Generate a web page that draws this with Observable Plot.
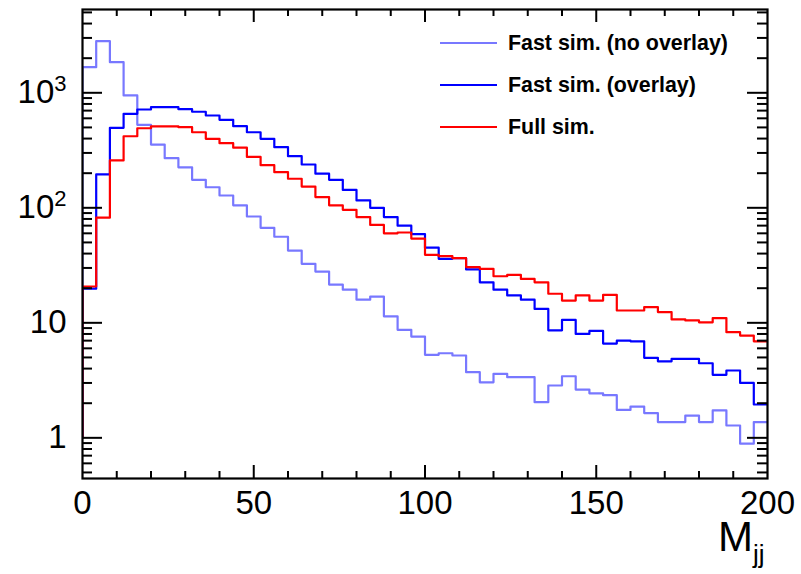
<!DOCTYPE html>
<html><head><meta charset="utf-8">
<script src="https://cdn.jsdelivr.net/npm/d3@7"></script>
<script src="https://cdn.jsdelivr.net/npm/@observablehq/plot@0.6"></script>
<style>
body{margin:0;background:#fff}
#wrap{position:relative;width:801px;height:574px;font-family:"Liberation Sans",Arial,Helvetica,sans-serif;color:#000}
#legend{position:absolute;left:440px;top:0;font-weight:bold;font-size:21.4px}
.lg{position:absolute;left:0;white-space:nowrap;display:flex;align-items:center;height:24px}
.lg span.sw{display:inline-block;width:57px;height:0;border-top:2px solid;margin-right:11px}
#xlab{position:absolute;left:718px;top:516px;font-size:42px;white-space:nowrap;line-height:1}
#xlab sub{font-size:26px;vertical-align:-12px}
</style>
</head><body><div id="wrap"></div>
<script>
// bin lower edges (bin width 4)
const binEdges = [0,4,8,12,16,20,24,28,32,36,40,44,48,52,56,60,64,68,72,76,80,84,88,92,96,100,104,108,112,116,120,124,128,132,136,140,144,148,152,156,160,164,168,172,176,180,184,188,192,196];
const xUpper = 200;
const fastNoOverlay = [1670,2810,1845,948,527,355,270,225,175,151,128,105,84,67,56,42.5,32.6,27.9,21.5,19.4,15.9,16.9,11.4,8.7,7.6,5.27,5.44,5.2,3.72,3.04,3.6,3.37,3.37,2.04,2.85,3.43,2.63,2.44,2.35,1.75,1.87,1.64,1.37,1.37,1.56,1.37,1.73,1.28,0.89,1.37];
const fastOverlay = [19.8,195,496,657,716,750,750,720,684,635,582,513,454,398,337,281,238,198,175,143,116,100,83,70,59,45,36,36.5,29.1,22.5,19.4,17.3,15.9,13.2,8.6,10.6,8.0,8.5,6.6,7.0,6.9,4.96,4.63,4.86,4.86,4.45,3.53,3.85,3.0,1.95];
const fullSim = [20.7,82,258,419,492,510,510,502,454,398,365,333,277,235,204,179,153,124,105,96,83,71,60,61,54,39,38,36.5,30.5,29.5,25.4,26.1,24.1,22.5,17.9,15.6,17.3,15.6,17.5,12.8,12.8,13.7,12.4,10.7,10.5,10.1,11.0,8.3,7.75,6.9];
const seriesNames = ["Fast sim. (no overlay)","Fast sim. (overlay)","Full sim."];
const seriesColors = ["#7878ff","#0000ff","#ff0000"];
const histBase = 1;
const xTickLabels = [0,50,100,150,200];
const xMajorTicks = [50,100,150];
const xMinorTicks = [10,20,30,40,60,70,80,90,110,120,130,140,160,170,180,190];
const yTickLabels = [1,10,100,1000];
const yMinorTicks = [0.5,0.6,0.7,0.8,0.9,2,3,4,5,6,7,8,9,20,30,40,50,60,70,80,90,200,300,400,500,600,700,800,900,2000,3000,4000,5000];
const yLabelText = {1:"1",10:"10",100:"10²",1000:"10³"};

function stepPoints(vals, name){
  const pts = [{x: binEdges[0], y: histBase, s: name}];
  binEdges.forEach((e,i)=>pts.push({x:e, y:vals[i], s:name}));
  pts.push({x:xUpper, y:vals[vals.length-1], s:name});
  return pts;
}
const allSeries = [fastNoOverlay, fastOverlay, fullSim];

const W = 801, H = 574, mL = 82, mR = 34, mT = 9, mB = 96;
const pw = W - mL - mR, ph = H - mT - mB;

const marks = [];
allSeries.forEach((vals, k) => {
  marks.push(Plot.line(stepPoints(vals, seriesNames[k]), {x:"x", y:"y", curve:"step-after", stroke: seriesColors[k], strokeWidth: 2.2, clip: true}));
});
marks.push(
  Plot.ruleX(xMajorTicks, {insetTop: ph - 13, stroke:"black", strokeWidth:2}),
  Plot.ruleX(xMinorTicks, {insetTop: ph - 7, stroke:"black", strokeWidth:2}),
  Plot.ruleX(xMajorTicks, {insetBottom: ph - 13, stroke:"black", strokeWidth:2}),
  Plot.ruleX(xMinorTicks, {insetBottom: ph - 7, stroke:"black", strokeWidth:2}),
  Plot.ruleY(yTickLabels, {insetRight: pw - 20, stroke:"black", strokeWidth:2}),
  Plot.ruleY(yMinorTicks, {insetRight: pw - 10, stroke:"black", strokeWidth:2}),
  Plot.ruleY(yTickLabels, {insetLeft: pw - 20, stroke:"black", strokeWidth:2}),
  Plot.ruleY(yMinorTicks, {insetLeft: pw - 10, stroke:"black", strokeWidth:2}),
  Plot.frame({stroke:"black", strokeWidth: 2.2}),
  Plot.axisX({ticks: xTickLabels, tickSize: 0, tickPadding: 12, fontSize: 33, tickFormat: d => String(d), label: null}),
  Plot.axisY({ticks: yTickLabels, tickSize: 0, tickPadding: 16, fontSize: 33, tickFormat: d => yLabelText[d], label: null})
);

const chart = Plot.plot({
  width: W, height: H,
  marginLeft: mL, marginRight: mR, marginTop: mT, marginBottom: mB,
  style: {fontFamily: '"Liberation Sans", Arial, Helvetica, sans-serif', color: "#000", background: "#fff", overflow: "visible"},
  x: {domain: [0, 200]},
  y: {type: "log", domain: [0.443, 5300]},
  marks
});

// superscripts for 10² / 10³
const ns = "http://www.w3.org/2000/svg";
chart.querySelectorAll('g[aria-label="y-axis tick label"] text').forEach(t => {
  const s = t.textContent;
  const m = s.match(/^10([²³])$/);
  if (m) {
    t.textContent = "10";
    const ts = document.createElementNS(ns, "tspan");
    ts.setAttribute("font-size", "22");
    ts.setAttribute("dy", "-0.55em");
    ts.textContent = m[1] === "²" ? "2" : "3";
    t.appendChild(ts);
  }
});

const wrap = document.getElementById("wrap");
wrap.appendChild(chart);

const legend = document.createElement("div");
legend.id = "legend";
const legendY = [43, 85, 127];
seriesNames.forEach((n, k) => {
  const row = document.createElement("div");
  row.className = "lg";
  row.style.top = (legendY[k] - 12) + "px";
  const sw = document.createElement("span");
  sw.className = "sw";
  sw.style.borderColor = seriesColors[k];
  row.appendChild(sw);
  row.appendChild(document.createTextNode(n));
  legend.appendChild(row);
});
wrap.appendChild(legend);

const xlab = document.createElement("div");
xlab.id = "xlab";
xlab.innerHTML = "M<sub>jj</sub>";
wrap.appendChild(xlab);
</script>
</body></html>
